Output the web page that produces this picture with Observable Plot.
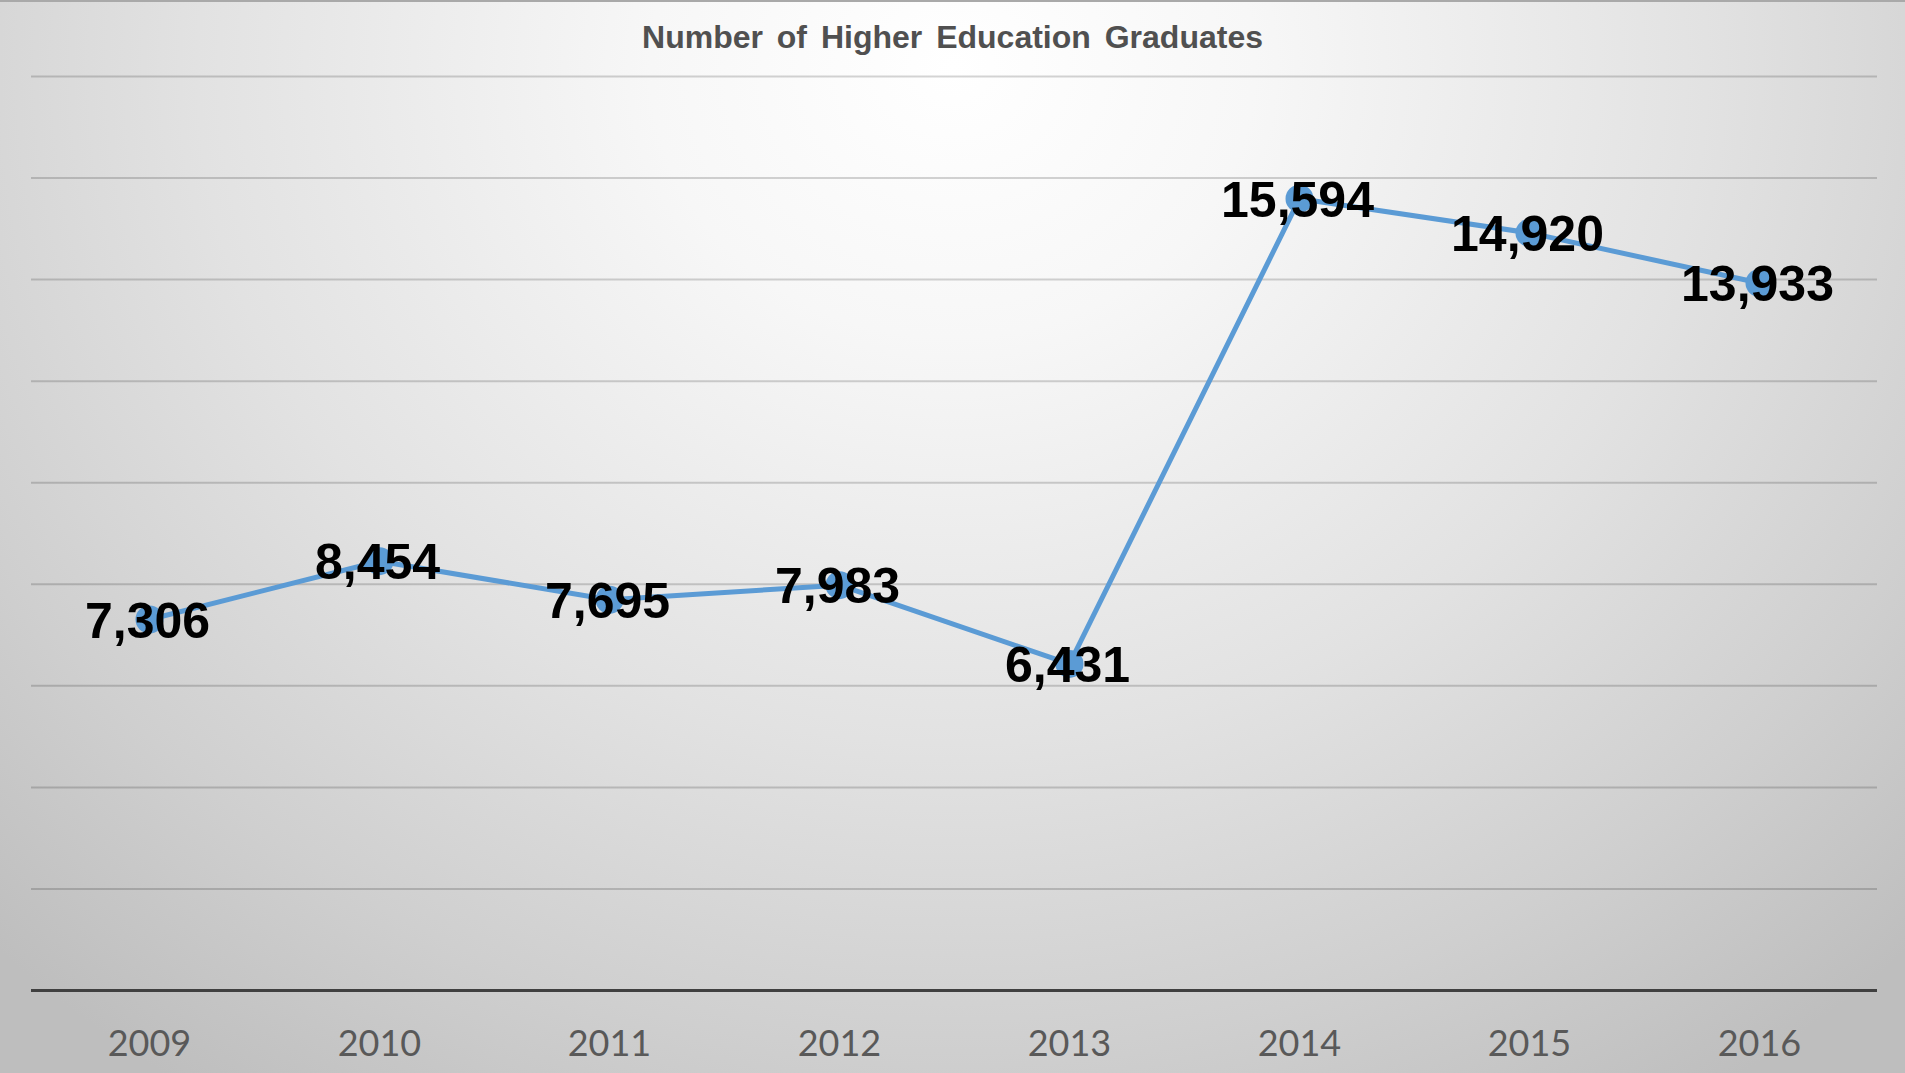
<!DOCTYPE html>
<html><head><meta charset="utf-8">
<script src="https://cdn.jsdelivr.net/npm/d3@7"></script>
<script src="https://cdn.jsdelivr.net/npm/@observablehq/plot@0.6"></script>
<style>
html,body{margin:0;padding:0;background:#fff;}
#chart{position:relative;width:1905px;height:1073px;overflow:hidden;box-sizing:border-box;
  border-top:2px solid #a9a9a9;
  background: radial-gradient(ellipse 72% 115% at 50% 6%, #ffffff 0%, #f7f7f7 22%, #e2e2e2 55%, #cfcfcf 80%, #bebebe 100%);}
#title{height:58px;line-height:70px;text-align:center;font-family:"Liberation Sans",Arial,sans-serif;
  font-weight:bold;font-size:32px;color:#505050;word-spacing:5px;}
#plot svg{display:block;}
</style></head>
<body>
<div id="chart"><div id="title">Number of Higher Education Graduates</div><div id="plot"></div></div>
<script>
const years = ["2009","2010","2011","2012","2013","2014","2015","2016"];
const graduates = [7306, 8454, 7695, 7983, 6431, 15594, 14920, 13933];
const yTicks = [2000, 4000, 6000, 8000, 10000, 12000, 14000, 16000, 18000];

const data = years.map((y, i) => ({year: y, value: graduates[i]}));
const fmt = d3.format(",");

const chart = Plot.plot({
  width: 1905,
  height: 1013,
  marginLeft: 31,
  marginRight: 28,
  marginTop: 16,
  marginBottom: 83,
  style: {fontFamily: "Lato, 'Open Sans', sans-serif", background: "transparent", overflow: "visible"},
  x: {type: "point", domain: years, padding: 0.5, label: null},
  y: {domain: [0, 18000], axis: null},
  marks: [
    Plot.gridY(yTicks, {stroke: "#000", strokeOpacity: 0.17, strokeWidth: 2}),
    Plot.ruleY([0], {stroke: "#404040", strokeWidth: 3}),
    Plot.axisX({tickSize: 0, tickPadding: 40, fontSize: 36, fill: "#595959", label: null}),
    Plot.line(data, {x: "year", y: "value", stroke: "#5b9bd5", strokeWidth: 5}),
    Plot.dot(data, {x: "year", y: "value", r: 14, fill: "#5b9bd5", stroke: "none"}),
    Plot.text(data, {x: "year", y: "value", text: d => fmt(d.value), fontSize: 50, fontWeight: "bold",
      fill: "#000", fontFamily: "'Liberation Sans', Arial, sans-serif", lineAnchor: "middle", dy: 2, dx: -2})
  ]
});
document.getElementById("plot").appendChild(chart);
</script>
</body></html>
